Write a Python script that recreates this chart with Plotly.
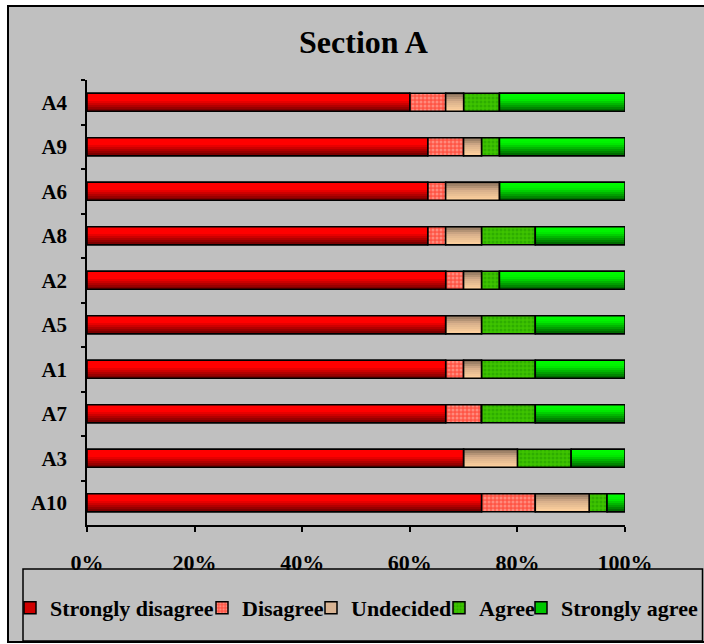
import plotly.graph_objects as go

# Survey responses (number of respondents) per question, top row first
questions = ["A4", "A9", "A6", "A8", "A2", "A5", "A1", "A7", "A3", "A10"]
strongly_disagree = [18, 19, 19, 19, 20, 20, 20, 20, 21, 22]
disagree = [2, 2, 1, 1, 1, 0, 1, 2, 0, 3]
undecided = [1, 1, 3, 2, 1, 2, 1, 0, 3, 3]
agree = [2, 1, 0, 3, 1, 3, 3, 3, 3, 1]
strongly_agree = [7, 7, 7, 5, 7, 5, 5, 5, 3, 1]

category_names = ["Strongly disagree", "Disagree", "Undecided", "Agree", "Strongly agree"]
x_tick_values = [0, 20, 40, 60, 80, 100]
x_tick_labels = ["0%", "20%", "40%", "60%", "80%", "100%"]

# ---- figure geometry (pixels) ----
W, H = 704, 644
L, R, T, B = 87, 79, 80, 119
PW, PH = W - L - R, H - T - B


def px_x(px):
    return (px - L) / PW


def px_y(py):
    return (H - B - py) / PH


BAR_W = 0.40
FONT = "Liberation Serif"

# ---- convert counts to 100 % stacked segments ----
series = [strongly_disagree, disagree, undecided, agree, strongly_agree]
totals = [sum(vals) for vals in zip(*series)]
pct = [[v / t * 100 for v, t in zip(s, totals)] for s in series]
bases = []
running = [0.0] * len(questions)
for s in pct:
    bases.append(running[:])
    running = [r + v for r, v in zip(running, s)]


def hex_to_rgb(h):
    h = h.lstrip("#")
    return tuple(int(h[i:i + 2], 16) for i in (0, 2, 4))


def blend(stops, t):
    """Piecewise linear colour ramp; stops = [(t, '#rrggbb'), ...]."""
    for (t0, c0), (t1, c1) in zip(stops[:-1], stops[1:]):
        if t0 <= t <= t1:
            f = 0 if t1 == t0 else (t - t0) / (t1 - t0)
            a, b = hex_to_rgb(c0), hex_to_rgb(c1)
            return "rgb(%d,%d,%d)" % tuple(round(x + (y - x) * f) for x, y in zip(a, b))
    return stops[-1][1]


# fill style per response category
styles = [
    dict(kind="grad", mid="#D00000",
         stops=[(0, "#FF0000"), (0.4, "#FF0000"), (1, "#700000")]),
    dict(kind="pattern", bg="#FF5545", fg="#FFC0B4"),
    dict(kind="grad", mid="#D8B494",
         stops=[(0, "#7E6854"), (0.45, "#D6AE8A"), (1, "#FFD29E")]),
    dict(kind="pattern", bg="#3EC400", fg="#1E9600"),
    dict(kind="grad", mid="#00C800",
         stops=[(0, "#00FF00"), (0.35, "#00F000"), (1, "#006000")]),
]

outline = dict(color="black", width=1.5)
fig = go.Figure()
legend_ids = ["legend", "legend2", "legend3", "legend4", "legend5"]

# base layer (carries legend entries)
for i, (name, st) in enumerate(zip(category_names, styles)):
    marker = dict(line=outline)
    if st["kind"] == "pattern":
        marker["color"] = st["bg"]
        marker["pattern"] = dict(shape=".", bgcolor=st["bg"], fgcolor=st["fg"],
                                 size=4, solidity=0.45, fillmode="overlay")
    else:
        marker["color"] = st["mid"]
    fig.add_trace(go.Bar(
        name=name, y=questions, x=pct[i], base=bases[i], orientation="h",
        width=BAR_W, marker=marker, legend=legend_ids[i],
        hoverinfo="skip",
    ))

# vertical shading bands for the gradient-filled categories
N_BANDS = 9
for i, st in enumerate(styles):
    if st["kind"] != "grad":
        continue
    for k in range(N_BANDS):
        t = (k + 0.5) / N_BANDS
        fig.add_trace(go.Bar(
            y=questions, x=pct[i], base=bases[i], orientation="h",
            width=BAR_W / N_BANDS, offset=-BAR_W / 2 + k * BAR_W / N_BANDS,
            marker=dict(color=blend(st["stops"], t), line=dict(width=0)),
            showlegend=False, hoverinfo="skip",
        ))

# outlines on top of the shading
for i, st in enumerate(styles):
    if st["kind"] != "grad":
        continue
    fig.add_trace(go.Bar(
        y=questions, x=pct[i], base=bases[i], orientation="h",
        width=BAR_W, marker=dict(color="rgba(0,0,0,0)", line=outline),
        showlegend=False, hoverinfo="skip",
    ))

# ---- background panels ----
shapes = [
    dict(type="rect", xref="paper", yref="paper", layer="below",
         x0=px_x(8), x1=px_x(730), y0=px_y(642), y1=px_y(6),
         fillcolor="#C0C0C0", line=dict(color="black", width=2)),
    dict(type="rect", xref="paper", yref="paper", layer="above",
         x0=px_x(23), x1=px_x(702.5), y0=px_y(641), y1=px_y(569),
         fillcolor="rgba(0,0,0,0)", line=dict(color="black", width=1.5)),
]

legend_font = dict(family=FONT, size=22, color="black", weight="bold")
text_starts = [50, 242, 351, 479, 561]
legends = {}
for lid, xs in zip(legend_ids, text_starts):
    legends[lid] = dict(
        x=px_x(xs - 40), xanchor="left", y=px_y(608), yanchor="middle",
        orientation="h", bgcolor="rgba(0,0,0,0)", borderwidth=0,
        font=legend_font,
    )

fig.update_layout(
    width=W, height=H,
    margin=dict(l=L, r=R, t=T, b=B, autoexpand=False),
    paper_bgcolor="white",
    plot_bgcolor="rgba(0,0,0,0)",
    barmode="overlay",
    showlegend=True,
    title=dict(text="Section A", x=px_x(363.5), xref="paper", xanchor="center",
               y=1 - 42 / H, yref="container", yanchor="middle",
               font=dict(family=FONT, size=32, color="black", weight="bold")),
    xaxis=dict(range=[0, 100], tickvals=x_tick_values, ticktext=x_tick_labels,
               ticks="outside", ticklen=5, tickcolor="black", tickwidth=1.5,
               showline=True, linecolor="black", linewidth=1.5,
               showgrid=False, zeroline=False, ticklabelstandoff=12,
               tickfont=dict(family=FONT, size=22, color="black", weight="bold")),
    yaxis=dict(categoryorder="array", categoryarray=questions,
               autorange="reversed", tickson="boundaries",
               ticks="outside", ticklen=4, tickcolor="black", tickwidth=1.5,
               showline=True, linecolor="black", linewidth=1.5,
               showgrid=False, zeroline=False, ticklabelstandoff=14,
               tickfont=dict(family=FONT, size=21, color="black", weight="bold")),
    shapes=shapes,
    **legends,
)

fig.write_html("out.html")
